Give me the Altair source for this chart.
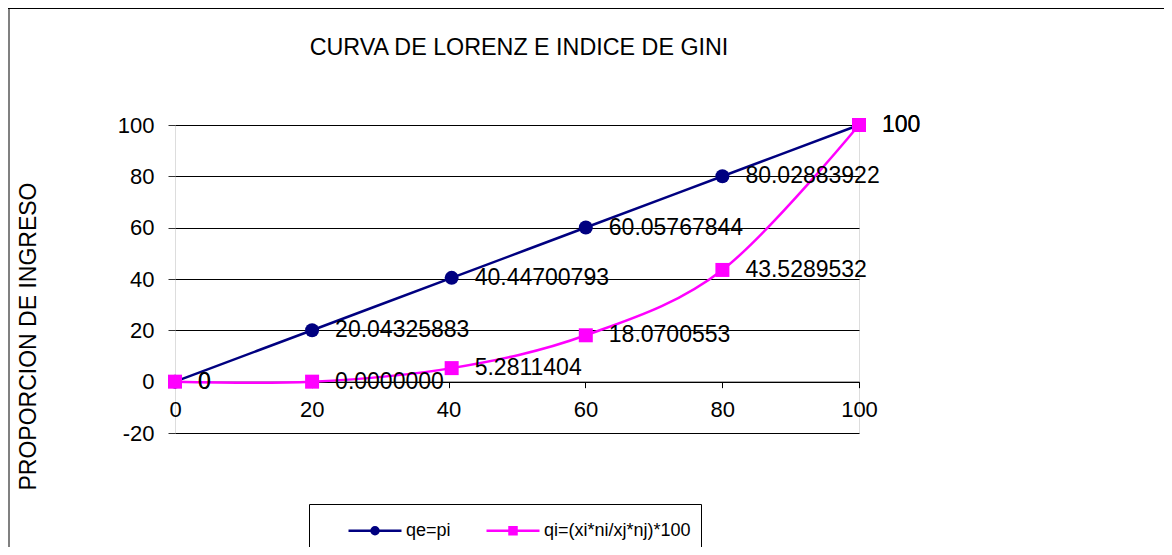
import altair as alt
import pandas as pd

# ---- data ----
pi_vals = [0, 20.04325883, 40.44700793, 60.05767844, 80.02883922, 100]
qe_vals = [0, 20.04325883, 40.44700793, 60.05767844, 80.02883922, 100]
qi_vals = [0, 0.0, 5.2811404, 18.0700553, 43.5289532, 100]
qe_labels = ["0", "20.04325883", "40.44700793", "60.05767844", "80.02883922", "100"]
qi_labels = ["0", "0.0000000", "5.2811404", "18.0700553", "43.5289532", "100"]
series = ["qe=pi", "qi=(xi*ni/xj*nj)*100"]
colors = ["#000080", "#FF00FF"]

rows = []
for i, (x, y, lab) in enumerate(zip(pi_vals, qe_vals, qe_labels)):
    rows.append({"x": x, "y": y, "serie": series[0], "label": lab, "o": i})
for i, (x, y, lab) in enumerate(zip(pi_vals, qi_vals, qi_labels)):
    rows.append({"x": x, "y": y, "serie": series[1], "label": lab, "o": i})
df = pd.DataFrame(rows)

FONT = "Liberation Sans"
W, H = 684, 308

xs = alt.Scale(domain=[0, 100], nice=False, zero=False)
ys = alt.Scale(domain=[-20, 100], nice=False, zero=False)
cs = alt.Scale(domain=series, range=colors)

circle_path = "M0.867,0 L4.4,0 M2.867,0 A0.233,0.233 0 1,1 2.4,0 A0.233,0.233 0 1,1 2.867,0 Z"
square_path = "M0.867,0 L4.4,0 M2.4,-0.233 L2.867,-0.233 L2.867,0.233 L2.4,0.233 Z"
q = "datum.value === 'qe=pi'"
pad_nbsp = "\u00a0" * 5

legend = alt.Legend(
    title=None, orient="none", legendX=134, legendY=379, direction="horizontal",
    strokeColor="#000000", fillColor="#FFFFFF", padding=10, cornerRadius=0,
    labelFont=FONT, labelFontSize=18, labelColor="#000000", labelOffset=54,
    labelExpr=f"{q} ? datum.label : datum.label + '{pad_nbsp}'",
    symbolSize=900, columnPadding=6, symbolStrokeWidth=2.5, symbolOpacity=1,
    symbolType=alt.ExprRef(expr=f"{q} ? '{circle_path}' : '{square_path}'"),
    symbolFillColor=alt.ExprRef(expr=f"{q} ? '{colors[0]}' : '{colors[1]}'"),
    symbolStrokeColor=alt.ExprRef(expr=f"{q} ? '{colors[0]}' : '{colors[1]}'"),
)

x_axis = alt.Axis(values=[0, 20, 40, 60, 80, 100], grid=False, offset=-H * 20 / 120,
                  domainColor="#000000", domainWidth=1, tickColor="#000000", tickSize=6,
                  labelFontSize=22, labelFont=FONT, labelColor="#000000", labelPadding=12,
                  labelFlush=False, title=None)
y_axis = alt.Axis(values=[-20, 0, 20, 40, 60, 80, 100], grid=True, gridColor="#000000",
                  gridWidth=1, domain=False, tickColor="#333333", tickSize=7,
                  labelFontSize=22, labelFont=FONT, labelColor="#000000", labelPadding=14,
                  labelExpr="'' + datum.value",
                  title="PROPORCION DE INGRESO", titleFont=FONT, titleFontSize=23,
                  titleFontWeight="normal", titleColor="#000000", titleX=-147, titleY=211,
                  titleBaseline="middle", titleAngle=270)

base = alt.Chart(df)

lines = base.mark_line(interpolate="cardinal", strokeWidth=2.5).encode(
    x=alt.X("x:Q", scale=xs, axis=x_axis),
    y=alt.Y("y:Q", scale=ys, axis=y_axis),
    color=alt.Color("serie:N", scale=cs, legend=legend),
    order="o:Q",
)

points_qe = base.transform_filter(alt.datum.serie == series[0]).mark_point(
    filled=True, opacity=1, size=196, shape="circle").encode(
    x="x:Q", y="y:Q", color=alt.Color("serie:N", scale=cs, legend=None))
points_qi = base.transform_filter(alt.datum.serie == series[1]).mark_point(
    filled=True, opacity=1, size=196, shape="square").encode(
    x="x:Q", y="y:Q", color=alt.Color("serie:N", scale=cs, legend=None))

labels = base.mark_text(align="left", baseline="middle", dx=23, fontSize=23, font=FONT,
                        color="#000000").encode(x="x:Q", y="y:Q", text="label:N")

one = pd.DataFrame({"k": [0]})
frame_left = alt.Chart(one).mark_rule(stroke="#808080", strokeWidth=2).encode(
    x=alt.value(-166), y=alt.value(-117), y2=alt.value(H + 300))
frame_top = alt.Chart(one).mark_rule(stroke="#000000", strokeWidth=2).encode(
    y=alt.value(-117), x=alt.value(-167), x2=alt.value(W + 400))

chart = alt.layer(frame_left, frame_top, lines, points_qe, points_qi, labels).properties(
    width=W, height=H,
    title=alt.TitleParams("CURVA DE LORENZ E INDICE DE GINI", font=FONT, fontSize=23.3,
                          fontWeight="normal", color="#000000", anchor="middle", offset=-53, dx=2),
    autosize=alt.AutoSizeParams(type="none"),
    padding={"left": 167, "top": 117, "right": 1156 - 167 - W, "bottom": 539 - 117 - H},
).configure_view(fill="#FFFFCC", stroke="#808080", strokeWidth=2).configure(
    background="#FFFFFF", font=FONT
)

chart.save("out.html", embed_options={"renderer": "svg", "actions": False})
